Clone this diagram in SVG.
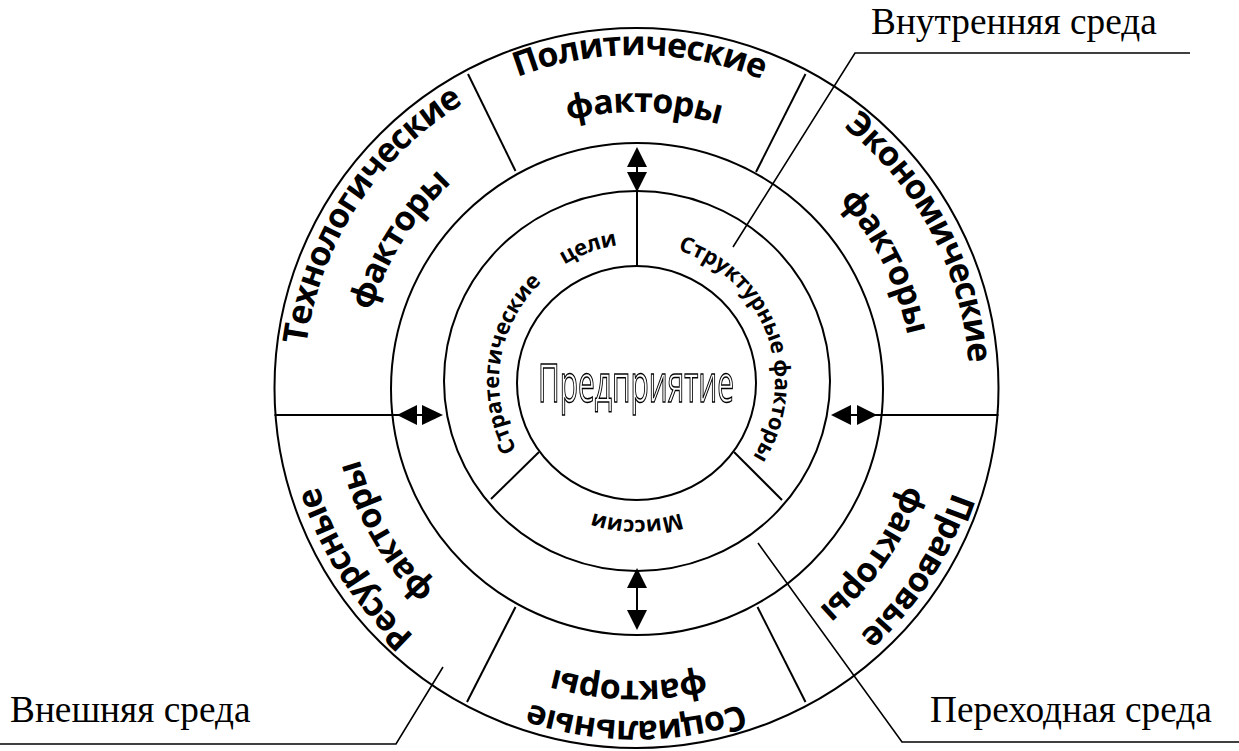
<svg xmlns="http://www.w3.org/2000/svg" width="1239" height="751" viewBox="0 0 1239 751">
  <style>
    .ln { stroke: #000; stroke-width: 2; fill: none; }
    .thin { stroke: #000; stroke-width: 1.6; fill: none; }
    .head { fill: #000; stroke: none; }
    .big { font-family: "Open Sans", "DejaVu Sans", sans-serif; font-weight: 700; font-size: 34px; letter-spacing: -1px; fill: #000; text-anchor: middle; }
    .small { font-family: "Open Sans", "DejaVu Sans", sans-serif; font-weight: 700; font-size: 22px; letter-spacing: -0.3px; fill: #000; text-anchor: middle; }
    .lbl { font-family: "Liberation Serif", "Times New Roman", serif; font-size: 37.3px; fill: #000; }
    .core { font-family: "Open Sans", "DejaVu Sans", sans-serif; font-size: 53px; fill: #fff; stroke: #000; stroke-width: 1.5; }
  </style>
  <defs>
    <!-- clockwise arcs around the origin, centred on the top; rotated into place per label -->
    <path id="a333" d="M -327.94 -57.83 A 333 333 0 0 1 327.94 -57.83"/>
    <path id="a276" d="M -271.81 -47.93 A 276 276 0 0 1 271.81 -47.93"/>
    <path id="a286" d="M -281.65 -49.66 A 286 286 0 0 1 281.65 -49.66"/>
    <path id="a293" d="M -288.55 -50.88 A 293 293 0 0 1 288.55 -50.88"/>
    <path id="a138" d="M -135.90 -23.96 A 138 138 0 0 1 135.90 -23.96"/>
    <!-- renders the outlined title through a filter surface for clean grey antialiasing -->
    <filter id="flat"><feOffset dx="0" dy="0"/></filter>
  </defs>
  <rect width="1239" height="751" fill="#fff"/>

  <!-- rings -->
  <g id="rings">
    <ellipse class="ln" cx="636.5" cy="388" rx="362" ry="360"/>
    <circle class="ln" cx="637" cy="389" r="246"/>
    <ellipse class="ln" cx="637" cy="381" rx="193" ry="190"/>
  </g>

  <!-- external environment: six sectors -->
  <g id="sector-dividers">
    <line class="ln" x1="468" y1="74" x2="515.5" y2="171"/>
    <line class="ln" x1="805.5" y1="74" x2="756" y2="172"/>
    <line class="ln" x1="515.5" y1="607" x2="467" y2="702"/>
    <line class="ln" x1="757.5" y1="607" x2="805.5" y2="702"/>
  </g>

  <g id="political">
    <g transform="translate(636.5 388) rotate(0.5)"><text class="big"><textPath href="#a333" startOffset="50%">Политические</textPath></text></g>
    <g transform="translate(636.5 388) rotate(1.5)"><text class="big"><textPath href="#a276" startOffset="50%">факторы</textPath></text></g>
  </g>
  <g id="technological">
    <g transform="translate(636.5 388) rotate(-57)"><text class="big"><textPath href="#a333" startOffset="50%">Технологические</textPath></text></g>
    <g transform="translate(636.5 388) rotate(-58)"><text class="big"><textPath href="#a276" startOffset="50%">факторы</textPath></text></g>
  </g>
  <g id="economic">
    <g transform="translate(636.5 388) rotate(62)"><text class="big"><textPath href="#a333" startOffset="50%">Экономические</textPath></text></g>
    <g transform="translate(636.5 388) rotate(63)"><text class="big"><textPath href="#a276" startOffset="50%">факторы</textPath></text></g>
  </g>
  <g id="legal">
    <g transform="translate(636.5 388) rotate(123)"><text class="big"><textPath href="#a333" startOffset="50%">Правовые</textPath></text></g>
    <g transform="translate(636.5 388) rotate(125)"><text class="big"><textPath href="#a286" startOffset="50%">факторы</textPath></text></g>
  </g>
  <g id="social">
    <g transform="translate(636.5 388) rotate(180)"><text class="big"><textPath href="#a333" startOffset="50%">Социальные</textPath></text></g>
    <g transform="translate(636.5 388) rotate(181.4)"><text class="big"><textPath href="#a293" startOffset="50%">факторы</textPath></text></g>
  </g>
  <g id="resource">
    <g transform="translate(636.5 388) rotate(-122.7)"><text class="big"><textPath href="#a333" startOffset="50%">Ресурсные</textPath></text></g>
    <g transform="translate(636.5 388) rotate(-119.8)"><text class="big"><textPath href="#a286" startOffset="50%">факторы</textPath></text></g>
  </g>

  <!-- internal environment ring -->
  <g id="internal-dividers">
    <line class="ln" x1="539" y1="452" x2="491" y2="499"/>
    <line class="ln" x1="734" y1="452" x2="782" y2="500"/>
  </g>
  <g id="strategic-goals">
    <g transform="translate(637 382) rotate(-81.6)"><text class="small"><textPath href="#a138" startOffset="50%">Стратегические</textPath></text></g>
    <g transform="translate(637 382) rotate(-20)"><text class="small"><textPath href="#a138" startOffset="50%">цели</textPath></text></g>
  </g>
  <g id="structural-factors">
    <g transform="translate(637 382) rotate(70)"><text class="small"><textPath href="#a138" startOffset="50%">Структурные факторы</textPath></text></g>
  </g>
  <g id="mission">
    <g transform="translate(637 382) rotate(180)"><text class="small"><textPath href="#a138" startOffset="50%">Миссии</textPath></text></g>
  </g>

  <!-- centre -->
  <g id="enterprise">
    <ellipse class="ln" cx="636.5" cy="383" rx="119.5" ry="117"/>
    <g filter="url(#flat)">
      <text class="core" x="538" y="402" textLength="196" lengthAdjust="spacingAndGlyphs">Предприятие</text>
    </g>
  </g>

  <!-- connectors: two-way arrows and leader lines -->
  <g id="connectors">
    <line class="ln" x1="637" y1="150" x2="637" y2="266"/>
    <polygon class="head" points="637,147 627,167 647,167"/>
    <polygon class="head" points="627,172 647,172 637,192"/>

    <line class="ln" x1="637" y1="570" x2="637" y2="628"/>
    <polygon class="head" points="637,568 627,588 647,588"/>
    <polygon class="head" points="627,610 647,610 637,630"/>

    <line class="ln" x1="274.5" y1="415" x2="440" y2="415"/>
    <polygon class="head" points="397,415 417,405 417,425"/>
    <polygon class="head" points="422,405 422,425 443,415"/>

    <line class="ln" x1="834" y1="415" x2="998.5" y2="415"/>
    <polygon class="head" points="831,415 851,405 851,425"/>
    <polygon class="head" points="857,405 857,425 877,415"/>

    <polyline class="thin" points="1190,53 855,53 733,247"/>
    <polyline class="thin" points="0,744 396,744 443,667"/>
    <polyline class="thin" points="758,543 902,742 1239,742"/>
  </g>

  <g id="labels">
    <text class="lbl" x="871" y="34">Внутренняя среда</text>
    <text class="lbl" x="10" y="722">Внешняя среда</text>
    <text class="lbl" x="930" y="722">Переходная среда</text>
  </g>
</svg>
